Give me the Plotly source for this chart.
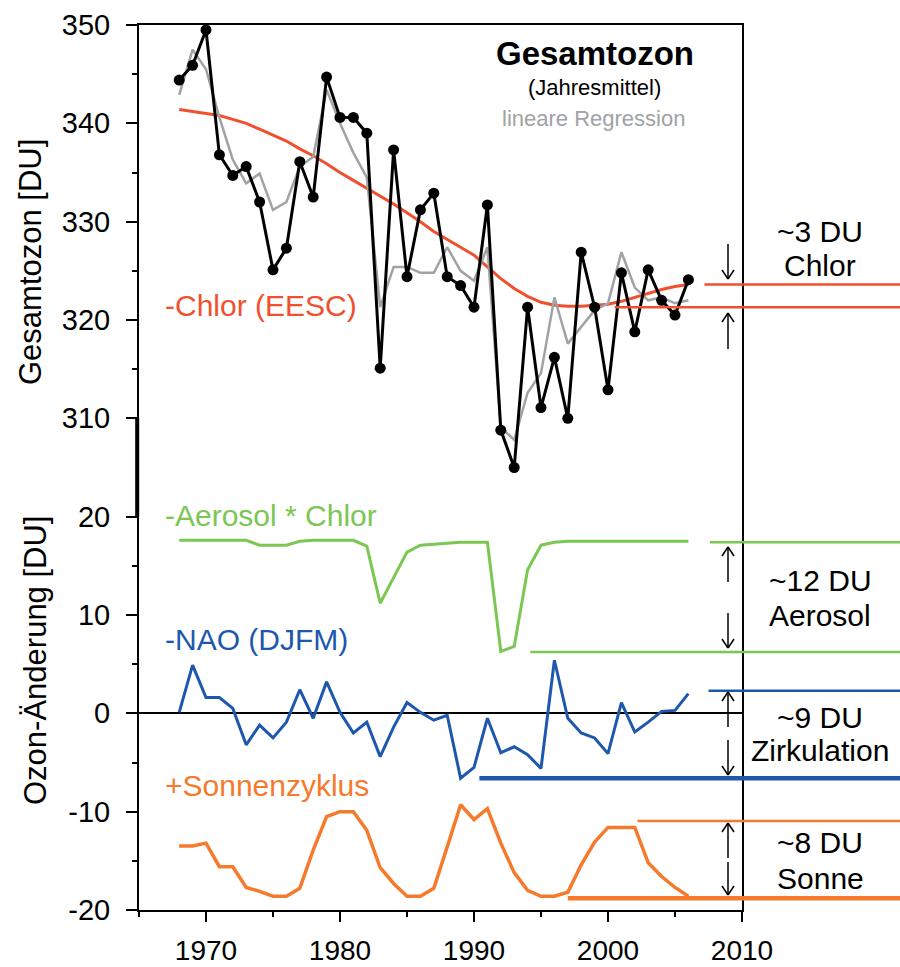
import plotly.graph_objects as go

# ---------------- data ----------------
years = list(range(1968, 2007))
ozone_annual = [344.4, 345.9, 349.5, 336.8, 334.7, 335.6, 332.0, 325.1, 327.3, 336.1,
                332.5, 344.7, 340.6, 340.6, 339.0, 315.1, 337.3, 324.4, 331.2, 332.9,
                324.4, 323.5, 321.3, 331.7, 308.8, 305.0, 321.3, 311.1, 316.2, 310.0,
                326.9, 321.3, 312.9, 324.8, 318.8, 325.1, 322.0, 320.5, 324.1]
ozone_regression = [342.9, 347.5, 345.5, 340.6, 336.3, 333.9, 334.9, 331.2, 332.0, 335.6,
                    336.6, 343.4, 340.0, 337.0, 334.5, 321.3, 325.4, 325.4, 324.8, 324.8,
                    327.4, 325.0, 324.0, 327.4, 309.1, 307.8, 312.6, 314.6, 322.3, 317.6,
                    319.3, 321.0, 321.7, 326.9, 323.3, 322.0, 322.3, 321.7, 322.0]
chlor_eesc = [341.4, 341.2, 341.0, 340.8, 340.4, 340.0, 339.4, 338.8, 338.2, 337.4,
              336.7, 335.9, 335.0, 334.2, 333.4, 332.6, 331.8, 330.9, 330.0, 329.0,
              328.2, 327.4, 326.6, 325.4, 324.2, 323.2, 322.4, 321.8, 321.5, 321.4,
              321.4, 321.5, 321.6, 321.9, 322.3, 322.7, 323.1, 323.4, 323.6]
aerosol_chlor = [17.6, 17.6, 17.6, 17.6, 17.6, 17.6, 17.1, 17.1, 17.1, 17.5,
                 17.6, 17.6, 17.6, 17.6, 17.0, 11.2, 13.8, 16.4, 17.1, 17.2,
                 17.3, 17.4, 17.4, 17.4, 6.3, 6.8, 14.6, 17.1, 17.4, 17.5,
                 17.5, 17.5, 17.5, 17.5, 17.5, 17.5, 17.5, 17.5, 17.5]
nao_djfm = [0.1, 4.9, 1.6, 1.6, 0.5, -3.2, -1.2, -2.5, -0.9, 2.4,
            -0.5, 3.2, 0.1, -2.0, -0.9, -4.4, -1.4, 1.1, 0.1, -0.7,
            -0.2, -6.6, -5.5, -0.5, -4.0, -3.4, -4.2, -5.6, 5.4, -0.5,
            -2.0, -2.5, -4.1, 1.1, -1.9, -0.9, 0.2, 0.3, 2.0]
solar_cycle = [-13.5, -13.5, -13.2, -15.6, -15.6, -17.7, -18.1, -18.6, -18.6, -17.8,
               -13.9, -10.5, -10.0, -10.0, -11.9, -15.7, -17.3, -18.6, -18.6, -17.8,
               -13.6, -9.3, -10.8, -9.7, -13.2, -16.2, -18.0, -18.6, -18.6, -18.2,
               -15.4, -13.1, -11.6, -11.6, -11.6, -15.2, -16.6, -17.7, -18.6]

# upper panel (total ozone) is drawn on the same scale, shifted by this offset
upper_offset = 280
upper_ticks = [310, 320, 330, 340, 350]
lower_ticks = [-20, -10, 0, 10, 20]
x_ticks = [1970, 1980, 1990, 2000, 2010]

# amplitude markers (level, start year) on the right side
chlor_levels = [(323.6, 2007.2), (321.3, 2000.5)]
aerosol_levels = [(17.4, 2007.6), (6.25, 1994.2)]
nao_levels = [(2.3, 2007.5), (-6.6, 1990.4)]
solar_levels = [(-10.95, 2002.2), (-18.8, 1997.0)]
amp_texts = [("~3 DU", "Chlor"), ("~12 DU", "Aerosol"), ("~9 DU", "Zirkulation"), ("~8 DU", "Sonne")]

# ---------------- colours ----------------
C_BLACK = "#000000"
C_GRAY = "#a0a2a5"
C_RED = "#f0502d"
C_GREEN = "#7cc653"
C_BLUE = "#1d58ad"
C_ORANGE = "#f57a2b"
FONT = "Liberation Sans, Arial, sans-serif"

XMIN, XMAX = 1965, 2010
YMIN, YMAX = -20, 70

fig = go.Figure()

up = lambda arr: [v - upper_offset for v in arr]

fig.add_trace(go.Scatter(x=years, y=up(chlor_eesc), mode="lines",
                         line=dict(color=C_RED, width=3), cliponaxis=False))
fig.add_trace(go.Scatter(x=years, y=up(ozone_regression), mode="lines",
                         line=dict(color=C_GRAY, width=2.5), cliponaxis=False))
fig.add_trace(go.Scatter(x=years, y=up(ozone_annual), mode="lines+markers",
                         line=dict(color=C_BLACK, width=3),
                         marker=dict(color=C_BLACK, size=11), cliponaxis=False))
fig.add_trace(go.Scatter(x=years, y=aerosol_chlor, mode="lines",
                         line=dict(color=C_GREEN, width=3)))
fig.add_trace(go.Scatter(x=years, y=nao_djfm, mode="lines",
                         line=dict(color=C_BLUE, width=3)))
fig.add_trace(go.Scatter(x=years, y=solar_cycle, mode="lines",
                         line=dict(color=C_ORANGE, width=3.5)))

# ---------------- geometry helpers ----------------
PL, PR, PT, PB = 139, 742, 25, 910   # plot area in pixels


def pxx(p):
    return (p - PL) / (PR - PL)


def pxy(p):
    return (PB - p) / (PB - PT)


def yr2paper(y):
    return (y - XMIN) / (XMAX - XMIN)


shapes = []
# thick segment on the left axis between the panels
shapes.append(dict(type="line", xref="paper", yref="y", x0=-0.003, x1=-0.003,
                   y0=20, y1=30, line=dict(color="black", width=4)))

x_right = pxx(900)
level_sets = [
    ([(v - upper_offset, s) for v, s in chlor_levels], C_RED, [2.5, 2.5]),
    (aerosol_levels, C_GREEN, [2.5, 2.5]),
    (nao_levels, C_BLUE, [2.5, 4.5]),
    (solar_levels, C_ORANGE, [2.5, 4.5]),
]
for lv, col, widths in level_sets:
    for (val, start), w in zip(lv, widths):
        shapes.append(dict(type="line", xref="paper", yref="y",
                           x0=yr2paper(start), x1=x_right, y0=val, y1=val,
                           line=dict(color=col, width=w)))


def arrow(xp, y_tail, y_tip):
    d = 1 if y_tip > y_tail else -1  # +1: pointing down (pixel y grows)
    segs = [((xp, y_tail), (xp, y_tip)),
            ((xp, y_tip), (xp - 6, y_tip - d * 9)),
            ((xp, y_tip), (xp + 6, y_tip - d * 9))]
    for (a, b) in segs:
        shapes.append(dict(type="line", xref="paper", yref="paper",
                           x0=pxx(a[0]), y0=pxy(a[1]), x1=pxx(b[0]), y1=pxy(b[1]),
                           line=dict(color="black", width=1.5)))


AX = 728
arrow(AX, 244, 279)   # chlor down
arrow(AX, 349, 313)   # chlor up
arrow(AX, 582, 547)   # aerosol up
arrow(AX, 613, 648)   # aerosol down
arrow(AX, 727, 692)   # nao up
arrow(AX, 740, 775)   # nao down
arrow(AX, 858, 823)   # solar up
arrow(AX, 862, 895)   # solar down

annotations = []


def text(x, y, s, size, color="black", xanchor="center", bold=False, angle=0):
    annotations.append(dict(xref="paper", yref="paper", x=pxx(x), y=pxy(y),
                            text=("<b>%s</b>" % s) if bold else s, showarrow=False,
                            xanchor=xanchor, yanchor="middle", textangle=angle,
                            font=dict(family=FONT, size=size, color=color)))


text(595, 53, "Gesamtozon", 33, bold=True)
text(594, 87, "(Jahresmittel)", 22)
text(593, 118, "lineare Regression", 22, color=C_GRAY)
text(163, 305, "-Chlor (EESC)", 30, color=C_RED, xanchor="left")
text(163, 515, "-Aerosol * Chlor", 30, color=C_GREEN, xanchor="left")
text(163, 640, "-NAO (DJFM)", 30, color=C_BLUE, xanchor="left")
text(163, 785, "+Sonnenzyklus", 30, color=C_ORANGE, xanchor="left")
text(30, 262, "Gesamtozon [DU]", 31, angle=-90)
text(35, 661, "Ozon-Änderung [DU]", 31, angle=-90)

amp_y = [(232, 265), (580, 615), (717, 750), (842, 878)]
for (t1, t2), (y1, y2) in zip(amp_texts, amp_y):
    text(820, y1, t1, 30)
    text(820, y2, t2, 30)

fig.update_layout(
    width=900, height=967,
    margin=dict(l=PL, r=900 - PR, t=PT, b=967 - PB, pad=0, autoexpand=False),
    paper_bgcolor="white", plot_bgcolor="white",
    showlegend=False,
    shapes=shapes, annotations=annotations,
    font=dict(family=FONT, color="black"),
)
fig.update_xaxes(range=[XMIN, XMAX], tickmode="array", tickvals=x_ticks,
                 ticktext=[str(t) for t in x_ticks], automargin=False,
                 ticks="outside", ticklen=10, tickwidth=2, tickcolor="black",
                 minor=dict(tickmode="array", tickvals=[1965, 1975, 1985, 1995, 2005],
                            ticks="outside", ticklen=5, tickwidth=2, tickcolor="black"),
                 showline=True, linecolor="black", linewidth=2, mirror=True,
                 showgrid=False, zeroline=False, ticklabelstandoff=4,
                 tickfont=dict(family=FONT, size=28, color="black"))
fig.update_yaxes(range=[YMIN, YMAX], tickmode="array",
                 tickvals=lower_ticks + [t - upper_offset for t in upper_ticks],
                 ticktext=[str(t) for t in lower_ticks] + [str(t) for t in upper_ticks],
                 automargin=False,
                 ticks="outside", ticklen=11, tickwidth=2, tickcolor="black",
                 minor=dict(tickmode="array", tickvals=[-15, -5, 5, 15, 35, 45, 55, 65],
                            ticks="outside", ticklen=5, tickwidth=2, tickcolor="black"),
                 showline=True, linecolor="black", linewidth=2, mirror=True,
                 showgrid=False, zeroline=True, zerolinecolor="black", zerolinewidth=1.5,
                 ticklabelstandoff=10,
                 tickfont=dict(family=FONT, size=29, color="black"))

fig.write_html(
    "out.html",
    config={"displayModeBar": False},
    post_script="document.body.style.margin='0';document.body.style.overflow='hidden';",
)
